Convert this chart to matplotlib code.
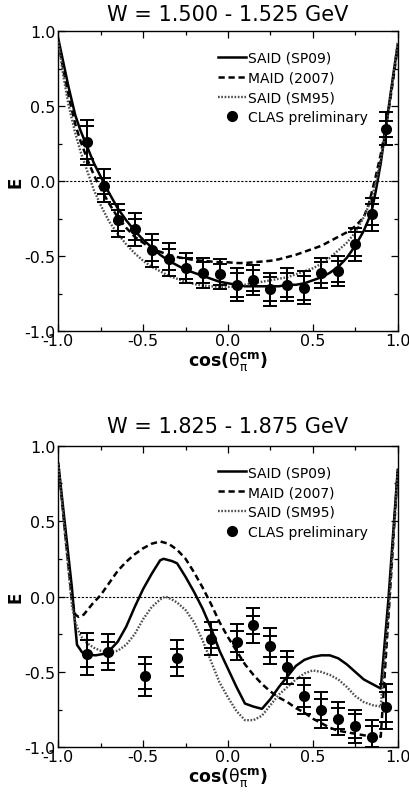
import matplotlib
matplotlib.use('Agg')
import matplotlib.pyplot as plt
from matplotlib.ticker import MultipleLocator

# ---- panel 1: W = 1.500 - 1.525 GeV ----
title1 = 'W = 1.500 - 1.525 GeV'
cos1 = [-0.83, -0.73, -0.65, -0.55, -0.45, -0.35, -0.25, -0.15, -0.05, 0.05,
	0.15, 0.25, 0.35, 0.45, 0.55, 0.65, 0.75, 0.85, 0.93]
E1 = [0.26, -0.03, -0.26, -0.32, -0.46, -0.52, -0.58, -0.61, -0.62, -0.69,
	-0.66, -0.72, -0.69, -0.71, -0.61, -0.60, -0.42, -0.22, 0.35]
stat1 = [0.11, 0.055, 0.07, 0.07, 0.07, 0.07, 0.07, 0.07, 0.07, 0.08,
	0.07, 0.08, 0.08, 0.08, 0.07, 0.07, 0.08, 0.07, 0.055]
tot1 = [0.15, 0.11, 0.11, 0.11, 0.11, 0.11, 0.10, 0.10, 0.10, 0.11,
	0.10, 0.11, 0.11, 0.11, 0.10, 0.10, 0.11, 0.11, 0.11]

grid1 = [-1.0, -0.97, -0.94, -0.90, -0.87, -0.83, -0.79, -0.75, -0.70, -0.65,
	-0.60, -0.55, -0.50, -0.45, -0.40, -0.35, -0.30, -0.25, -0.20, -0.15,
	-0.10, -0.05, 0.00, 0.05, 0.10, 0.15, 0.20, 0.25, 0.30, 0.35,
	0.40, 0.45, 0.50, 0.55, 0.60, 0.65, 0.70, 0.75, 0.80, 0.83,
	0.85, 0.87, 0.90, 0.925, 0.95, 0.975, 1.0]
sp09_1 = [0.95, 0.79, 0.63, 0.44, 0.34, 0.23, 0.12, 0.03, -0.08, -0.18,
	-0.26, -0.33, -0.39, -0.44, -0.49, -0.53, -0.56, -0.59, -0.61, -0.63,
	-0.65, -0.67, -0.68, -0.69, -0.70, -0.70, -0.70, -0.70, -0.70, -0.69,
	-0.69, -0.68, -0.66, -0.64, -0.61, -0.57, -0.51, -0.43, -0.33, -0.25,
	-0.18, -0.07, 0.12, 0.32, 0.52, 0.72, 0.91]
maid_1 = [0.93, 0.74, 0.57, 0.38, 0.27, 0.15, 0.04, -0.05, -0.15, -0.24,
	-0.31, -0.37, -0.41, -0.45, -0.47, -0.49, -0.505, -0.515, -0.525, -0.53,
	-0.535, -0.54, -0.54, -0.545, -0.545, -0.54, -0.535, -0.53, -0.52, -0.505,
	-0.49, -0.47, -0.45, -0.43, -0.40, -0.37, -0.34, -0.30, -0.24, -0.15,
	-0.06, 0.03, 0.18, 0.33, 0.50, 0.69, 0.90]
sm95_1 = [0.93, 0.70, 0.51, 0.32, 0.20, 0.07, -0.06, -0.16, -0.27, -0.35,
	-0.42, -0.48, -0.53, -0.57, -0.60, -0.63, -0.65, -0.67, -0.685, -0.695,
	-0.70, -0.705, -0.705, -0.70, -0.69, -0.68, -0.67, -0.66, -0.65, -0.64,
	-0.62, -0.60, -0.58, -0.55, -0.51, -0.46, -0.41, -0.34, -0.24, -0.16,
	-0.10, -0.01, 0.15, 0.31, 0.50, 0.71, 0.93]

# ---- panel 2: W = 1.825 - 1.875 GeV ----
title2 = 'W = 1.825 - 1.875 GeV'
cos2 = [-0.83, -0.71, -0.49, -0.30, -0.10, 0.05, 0.15, 0.25, 0.35, 0.45,
	0.55, 0.65, 0.75, 0.85, 0.93]
E2 = [-0.38, -0.37, -0.53, -0.41, -0.28, -0.30, -0.19, -0.33, -0.47, -0.66,
	-0.75, -0.81, -0.86, -0.93, -0.73]
stat2 = [0.09, 0.07, 0.08, 0.06, 0.06, 0.07, 0.06, 0.07, 0.07, 0.07,
	0.07, 0.07, 0.08, 0.07, 0.10]
tot2 = [0.14, 0.12, 0.13, 0.12, 0.11, 0.12, 0.115, 0.12, 0.11, 0.12,
	0.12, 0.11, 0.11, 0.11, 0.15]

sp09_2_x = [-1.0, -0.96, -0.92, -0.90, -0.89, -0.86, -0.83, -0.78, -0.73, -0.70,
	-0.65, -0.60, -0.55, -0.50, -0.45, -0.40, -0.38, -0.33, -0.30, -0.25,
	-0.20, -0.15, -0.10, -0.05, 0.00, 0.05, 0.10, 0.15, 0.20, 0.25,
	0.30, 0.35, 0.40, 0.45, 0.50, 0.55, 0.60, 0.65, 0.70, 0.75,
	0.80, 0.85, 0.90, 0.945, 1.0]
sp09_2 = [0.88, 0.47, 0.06, -0.20, -0.32, -0.37, -0.385, -0.39, -0.38, -0.36,
	-0.30, -0.20, -0.07, 0.05, 0.15, 0.24, 0.25, 0.235, 0.22, 0.13,
	0.03, -0.08, -0.21, -0.36, -0.48, -0.60, -0.71, -0.73, -0.745, -0.68,
	-0.60, -0.53, -0.46, -0.42, -0.40, -0.39, -0.39, -0.41, -0.45, -0.50,
	-0.55, -0.58, -0.61, -0.02, 0.84]
maid_2_x = [-1.0, -0.96, -0.92, -0.90, -0.88, -0.85, -0.80, -0.75, -0.70, -0.65,
	-0.60, -0.55, -0.50, -0.45, -0.40, -0.35, -0.30, -0.25, -0.20, -0.15,
	-0.10, -0.05, 0.00, 0.05, 0.10, 0.15, 0.20, 0.25, 0.30, 0.35,
	0.40, 0.45, 0.50, 0.55, 0.60, 0.65, 0.70, 0.75, 0.80, 0.85,
	0.90, 0.95, 1.0]
maid_2 = [0.88, 0.42, -0.02, -0.12, -0.135, -0.12, -0.05, 0.01, 0.09, 0.17,
	0.23, 0.28, 0.32, 0.35, 0.365, 0.35, 0.31, 0.25, 0.16, 0.06,
	-0.05, -0.17, -0.27, -0.36, -0.45, -0.52, -0.58, -0.63, -0.67, -0.70,
	-0.74, -0.77, -0.81, -0.84, -0.87, -0.89, -0.90, -0.91, -0.92, -0.93,
	-0.93, -0.05, 0.83]
sm95_2_x = [-1.0, -0.96, -0.92, -0.90, -0.87, -0.83, -0.79, -0.75, -0.70, -0.65,
	-0.60, -0.55, -0.50, -0.45, -0.40, -0.37, -0.33, -0.30, -0.25, -0.20,
	-0.15, -0.10, -0.05, 0.00, 0.05, 0.10, 0.15, 0.20, 0.25, 0.30,
	0.35, 0.40, 0.45, 0.50, 0.55, 0.60, 0.65, 0.70, 0.75, 0.80,
	0.85, 0.90, 0.95, 1.0]
sm95_2 = [0.88, 0.40, -0.06, -0.17, -0.26, -0.31, -0.34, -0.36, -0.37, -0.36,
	-0.32, -0.25, -0.15, -0.07, -0.02, 0.00, -0.02, -0.04, -0.09, -0.17,
	-0.29, -0.43, -0.57, -0.67, -0.76, -0.82, -0.82, -0.79, -0.72, -0.65,
	-0.60, -0.55, -0.51, -0.49, -0.50, -0.52, -0.55, -0.60, -0.66, -0.70,
	-0.72, -0.73, -0.05, 0.84]

labels = ['SAID (SP09)', 'MAID (2007)', 'SAID (SM95)', 'CLAS preliminary']


def main():

	plt.rcParams['font.family'] = ['DejaVu Sans']
	plt.rcParams['axes.unicode_minus'] = False
	fig = plt.figure(figsize=(4.09, 8.03), dpi=100)

	ax1 = fig.add_axes([0.1426, 0.5862, 0.8298, 0.3736])
	ax2 = fig.add_axes([0.1426, 0.0681, 0.8298, 0.3756])

	plot_panel(ax1, title1, cos1, E1, stat1, tot1,
		(grid1, sp09_1), (grid1, maid_1), (grid1, sm95_1), 8)
	plot_panel(ax2, title2, cos2, E2, stat2, tot2,
		(sp09_2_x, sp09_2), (maid_2_x, maid_2), (sm95_2_x, sm95_2), 10)

	fig.savefig('out.png', dpi=100)


def plot_panel(ax, title, x, E, stat, tot, sp09, maid, sm95, tpad):

	ax.axhline(0.0, color='black', lw=0.8, ls=(0, (2, 1.5)), zorder=1)

	ax.plot(sp09[0], sp09[1], color='black', lw=1.8, label=labels[0], zorder=3)
	ax.plot(maid[0], maid[1], color='black', lw=1.8, ls=(0, (2.5, 1.5)), label=labels[1], zorder=3)
	ax.plot(sm95[0], sm95[1], color='0.3', lw=1.7, ls=(0, (0.7, 0.7)), label=labels[2], zorder=3)

	# total and statistical errors, each with its own caps
	ax.errorbar(x, E, yerr=tot, fmt='none', ecolor='black', elinewidth=1.4,
		capsize=5, capthick=1.4, zorder=4)
	ax.errorbar(x, E, yerr=stat, fmt='none', ecolor='black', elinewidth=1.4,
		capsize=5, capthick=1.4, zorder=4)
	ax.plot(x, E, 'o', color='black', ms=7, ls='none', label=labels[3], zorder=5)

	ax.set_xlim(-1.0, 1.0)
	ax.set_ylim(-1.0, 1.0)
	ax.xaxis.set_major_locator(MultipleLocator(0.5))
	ax.xaxis.set_minor_locator(MultipleLocator(0.25))
	ax.yaxis.set_major_locator(MultipleLocator(0.5))
	ax.yaxis.set_minor_locator(MultipleLocator(0.25))
	ax.xaxis.set_major_formatter('{x:.1f}')
	ax.yaxis.set_major_formatter('{x:.1f}')

	ax.tick_params(which='both', direction='in', top=True, right=True, width=0.9, labelsize=11.5)
	ax.tick_params(which='major', length=5)
	ax.tick_params(axis='x', which='major', pad=1)
	ax.tick_params(axis='y', which='major', pad=2)
	ax.tick_params(which='minor', length=3)
	for sp in ax.spines.values():
		sp.set_linewidth(1.0)

	ax.set_title(title, fontsize=15, pad=tpad)
	ax.set_xlabel(r'cos($\mathrm{\theta}_{\mathrm{\pi}}^{\mathbf{cm}}$)', fontsize=12.5,
		fontweight='bold', labelpad=1)
	ax.set_ylabel('E', fontsize=12, fontweight='bold', labelpad=0)

	ax.legend(loc='upper left', bbox_to_anchor=(0.47, 0.935), frameon=False, fontsize=10,
		handlelength=2.0, handletextpad=0.2, labelspacing=0.42, borderpad=0, borderaxespad=0)


if __name__ == '__main__':
	main()
